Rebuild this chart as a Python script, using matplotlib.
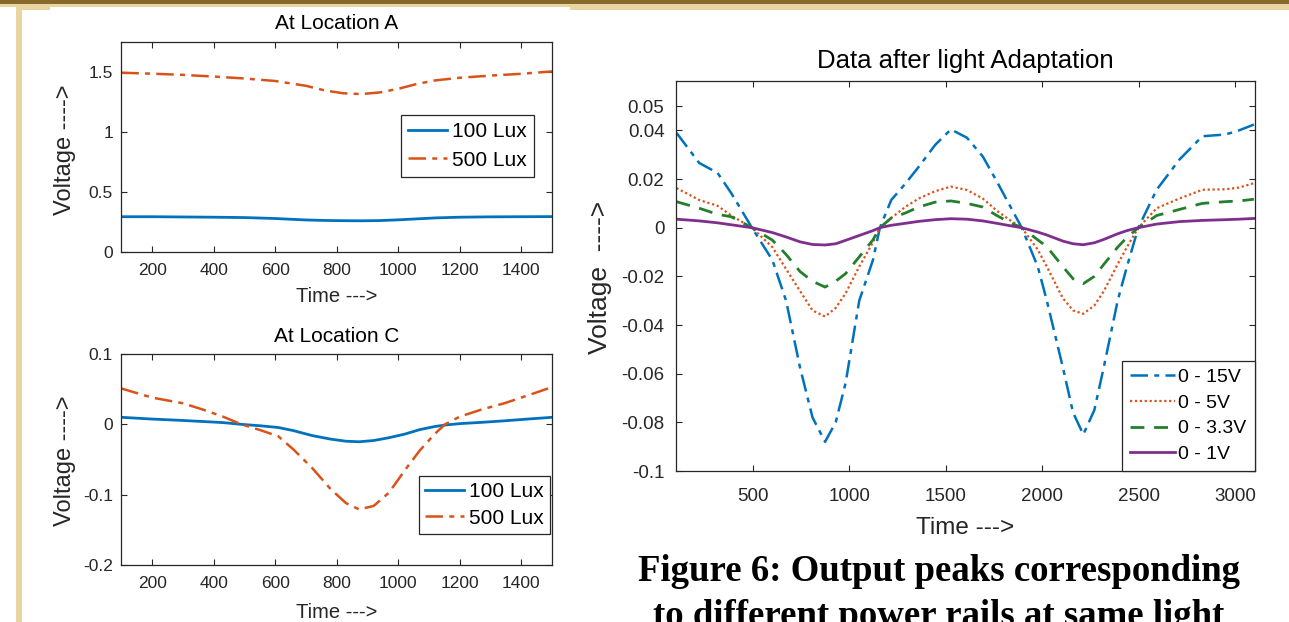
import matplotlib
matplotlib.use("Agg")
import matplotlib.pyplot as plt
from matplotlib.patches import Rectangle

plt.rcParams['font.family'] = ['Liberation Sans', 'DejaVu Sans']

# ---------------- data ----------------
a_time = [100, 200, 300, 400, 500, 600, 700, 760, 820, 880, 940, 1000, 1060, 1120, 1200, 1300, 1400, 1500]
a_100lux = [0.294, 0.294, 0.292, 0.290, 0.287, 0.279, 0.267, 0.263, 0.261, 0.260, 0.262, 0.268, 0.276, 0.284, 0.290, 0.293, 0.294, 0.295]
a_500lux = [1.494, 1.486, 1.476, 1.462, 1.446, 1.425, 1.385, 1.347, 1.323, 1.316, 1.330, 1.360, 1.400, 1.430, 1.452, 1.470, 1.485, 1.505]

c_time = [100, 200, 300, 365, 430, 490, 550, 610, 660, 720, 780, 830, 873, 920, 970, 1020, 1070, 1120, 1152, 1200, 1270, 1345, 1420, 1500]
c_100lux = [0.010, 0.0075, 0.0055, 0.004, 0.0025, 0.0, -0.002, -0.0045, -0.009, -0.016, -0.021, -0.024, -0.0248, -0.023, -0.019, -0.014, -0.0075, -0.003, -0.001, 0.001, 0.0028, 0.005, 0.0075, 0.010]
c_500lux = [0.051, 0.038, 0.030, 0.021, 0.011, 0.0, -0.008, -0.017, -0.036, -0.062, -0.092, -0.112, -0.121, -0.116, -0.097, -0.066, -0.037, -0.013, 0.0, 0.011, 0.021, 0.030, 0.041, 0.053]

r_time = [105, 223, 318, 389, 496, 602, 673, 745, 810, 875, 930, 981, 1052, 1123, 1159, 1218, 1290, 1360, 1445, 1527,
          1610, 1692, 1765, 1835, 1894, 1977, 2024, 2107, 2160, 2213, 2270, 2320, 2391, 2439, 2498, 2593, 2711, 2830, 2949, 3020, 3097]
r_15v = [0.039, 0.0266, 0.0225, 0.0142, 0.0, -0.0133, -0.030, -0.0574, -0.078, -0.088, -0.080, -0.064, -0.030, -0.0133, 0.0, 0.0114, 0.018, 0.025, 0.034, 0.0404,
         0.037, 0.0293, 0.019, 0.0087, 0.0, -0.016, -0.030, -0.0574, -0.076, -0.085, -0.075, -0.057, -0.030, -0.016, 0.0, 0.0156, 0.028, 0.0376, 0.0383, 0.040, 0.0424]
r_5v = [0.0163, 0.0114, 0.009, 0.005, 0.0, -0.008, -0.017, -0.026, -0.034, -0.0365, -0.033, -0.027, -0.016, -0.006, 0.0, 0.004, 0.0085, 0.012, 0.015, 0.0169,
        0.0155, 0.012, 0.007, 0.003, 0.0, -0.009, -0.016, -0.029, -0.034, -0.0354, -0.032, -0.026, -0.015, -0.008, 0.0, 0.008, 0.012, 0.0156, 0.0158, 0.0165, 0.0183]
r_3v3 = [0.0107, 0.008, 0.0055, 0.0045, 0.0, -0.0051, -0.011, -0.018, -0.022, -0.0244, -0.022, -0.0189, -0.012, -0.005, 0.0, 0.004, 0.006, 0.0085, 0.0105, 0.011,
         0.010, 0.0085, 0.005, 0.002, 0.0, -0.005, -0.0078, -0.016, -0.021, -0.023, -0.020, -0.015, -0.008, -0.004, 0.0, 0.005, 0.0075, 0.010, 0.0107, 0.011, 0.0117]
r_1v = [0.0035, 0.0028, 0.002, 0.0012, 0.0, -0.002, -0.0038, -0.0058, -0.0069, -0.0071, -0.0066, -0.0052, -0.0032, -0.0012, 0.0, 0.001, 0.0018, 0.0026, 0.0033, 0.0037,
        0.0035, 0.0028, 0.0018, 0.0008, 0.0, -0.0018, -0.003, -0.0055, -0.0066, -0.007, -0.0062, -0.0048, -0.0025, -0.0012, 0.0, 0.0015, 0.0025, 0.003, 0.0033, 0.0035, 0.0038]

left_xticks = [200, 400, 600, 800, 1000, 1200, 1400]
a_yticks = [0, 0.5, 1, 1.5]
a_yticklabels = ['0', '0.5', '1', '1.5']
c_yticks = [-0.2, -0.1, 0, 0.1]
c_yticklabels = ['-0.2', '-0.1', '0', '0.1']
r_xticks = [500, 1000, 1500, 2000, 2500, 3000]
r_yticks = [-0.1, -0.08, -0.06, -0.04, -0.02, 0, 0.02, 0.04, 0.05]
r_yticklabels = ['-0.1', '-0.08', '-0.06', '-0.04', '-0.02', '0', '0.02', '0.04', '0.05']

lux_labels = ['100 Lux', '500 Lux']
rail_labels = ['0 - 15V', '0 - 5V', '0 - 3.3V', '0 - 1V']

BLUE = '#0072BD'
ORANGE = '#D95319'
GREEN = '#237F2C'
PURPLE = '#7E2F8E'
INK = '#262626'

W, H = 1289, 622
fig = plt.figure(figsize=(W / 100, H / 100), dpi=100)
fig.patch.set_facecolor('white')

# decorative frame
def rect(x0, y0, x1, y1, color):
    fig.patches.append(Rectangle((x0 / W, 1 - y1 / H), (x1 - x0) / W, (y1 - y0) / H,
                                 transform=fig.transFigure, color=color, lw=0, zorder=0))

TAN = '#E8D5A2'
rect(0, 4, W, 7, TAN)
rect(16, 4, 50, 10, TAN)
rect(570, 4, W, 9.5, TAN)
rect(16, 4, 22, H, TAN)
rect(0, 0, W, 4.2, '#86692B')


def style(ax, fs):
    for s in ax.spines.values():
        s.set_color(INK)
        s.set_linewidth(0.9)
    ax.tick_params(direction='in', length=4, width=0.8, colors=INK, labelsize=fs,
                   top=True, right=True, labelcolor=INK)


DASHDOT = (0, (7, 2.5, 2, 2.5))

# ---- Location A ----
axA = fig.add_axes([121.3 / W, 1 - 252 / H, 430.9 / W, 210 / H])
axA.plot(a_time, a_100lux, color=BLUE, lw=2.0, label=lux_labels[0])
axA.plot(a_time, a_500lux, color=ORANGE, lw=1.8, linestyle=DASHDOT, label=lux_labels[1])
axA.set_xlim(100, 1500)
axA.set_ylim(0, 1.75)
axA.set_xticks(left_xticks)
axA.set_yticks(a_yticks)
axA.set_yticklabels(a_yticklabels)
style(axA, 12.5)
axA.tick_params(axis='x', pad=8)
axA.tick_params(axis='y', pad=6)
axA.text(0.5, 1.09, 'At Location A', transform=axA.transAxes, ha='center', va='center', fontsize=15, color='black')
axA.set_xlabel('Time --->', fontsize=14.5, color=INK)
axA.xaxis.set_label_coords(0.5, -0.214)
axA.xaxis.label.set_va('center')
axA.set_ylabel('Voltage ---->', fontsize=17, color=INK)
axA.yaxis.set_label_coords(-0.131, 0.485)
axA.yaxis.label.set_va('center')
legA = axA.legend(loc='upper left', bbox_to_anchor=(0.649, 0.652), borderaxespad=0, fontsize=15,
                  handlelength=1.85, handletextpad=0.25, borderpad=0.35, labelspacing=0.45,
                  fancybox=False, framealpha=1, edgecolor=INK)
legA.get_frame().set_linewidth(0.9)

# ---- Location C ----
axC = fig.add_axes([121.3 / W, 1 - 565 / H, 430.9 / W, 211 / H])
axC.plot(c_time, c_100lux, color=BLUE, lw=2.0, label=lux_labels[0])
axC.plot(c_time, c_500lux, color=ORANGE, lw=1.8, linestyle=DASHDOT, label=lux_labels[1])
axC.set_xlim(100, 1500)
axC.set_ylim(-0.2, 0.1)
axC.set_xticks(left_xticks)
axC.set_yticks(c_yticks)
axC.set_yticklabels(c_yticklabels)
style(axC, 12.5)
axC.tick_params(axis='x', pad=8)
axC.tick_params(axis='y', pad=6)
axC.text(0.5, 1.085, 'At Location C', transform=axC.transAxes, ha='center', va='center', fontsize=15, color='black')
axC.set_xlabel('Time --->', fontsize=14.5, color=INK)
axC.xaxis.set_label_coords(0.5, -0.227)
axC.xaxis.label.set_va('center')
axC.set_ylabel('Voltage ---->', fontsize=17, color=INK)
axC.yaxis.set_label_coords(-0.131, 0.493)
axC.yaxis.label.set_va('center')
legC = axC.legend(loc='lower right', bbox_to_anchor=(0.995, 0.147), borderaxespad=0, fontsize=15,
                  handlelength=1.85, handletextpad=0.25, borderpad=0.3, labelspacing=0.35,
                  fancybox=False, framealpha=1, edgecolor=INK)
legC.get_frame().set_linewidth(0.9)

# ---- Right: Data after light adaptation ----
axR = fig.add_axes([675.5 / W, 1 - 471 / H, 579 / W, 390 / H])
axR.plot(r_time, r_15v, color=BLUE, lw=1.8, linestyle=DASHDOT, label=rail_labels[0])
axR.plot(r_time, r_5v, color=ORANGE, lw=1.6, linestyle=(0, (1, 1.2)), label=rail_labels[1])
axR.plot(r_time, r_3v3, color=GREEN, lw=2.0, linestyle=(0, (5, 3.5)), label=rail_labels[2])
axR.plot(r_time, r_1v, color=PURPLE, lw=2.0, label=rail_labels[3])
axR.set_xlim(100, 3100)
axR.set_ylim(-0.1, 0.0603)
axR.set_xticks(r_xticks)
axR.set_yticks(r_yticks)
axR.set_yticklabels(r_yticklabels)
style(axR, 13.5)
axR.tick_params(axis='x', pad=12)
axR.tick_params(axis='y', pad=8)
axR.text(0.5, 1.051, 'Data after light Adaptation', transform=axR.transAxes, ha='center', va='center',
         fontsize=18.5, color='black')
axR.set_xlabel('Time --->', fontsize=17.5, color=INK)
axR.xaxis.set_label_coords(0.5, -0.146)
axR.xaxis.label.set_va('center')
axR.set_ylabel('Voltage  ---->', fontsize=19, color=INK)
axR.yaxis.set_label_coords(-0.130, 0.497)
axR.yaxis.label.set_va('center')
legR = axR.legend(loc='lower right', bbox_to_anchor=(1.0, 0.0), borderaxespad=0, fontsize=14,
                  handlelength=2.3, handletextpad=0.2, borderpad=0.4, labelspacing=0.42,
                  fancybox=False, framealpha=1, edgecolor=INK)
legR.get_frame().set_linewidth(0.9)

# caption (second line is cut by the lower edge, as in the reference)
fig.text(939 / W, 1 - 581 / H, 'Figure 6: Output peaks corresponding', ha='center', va='baseline',
         fontsize=26.5, fontweight='bold', family=['Liberation Serif', 'DejaVu Serif'], color='black')
fig.text(939 / W, 1 - 626 / H, 'to different power rails at same light', ha='center', va='baseline',
         fontsize=26.5, fontweight='bold', family=['Liberation Serif', 'DejaVu Serif'], color='black')

fig.savefig('out.png', dpi=100)
